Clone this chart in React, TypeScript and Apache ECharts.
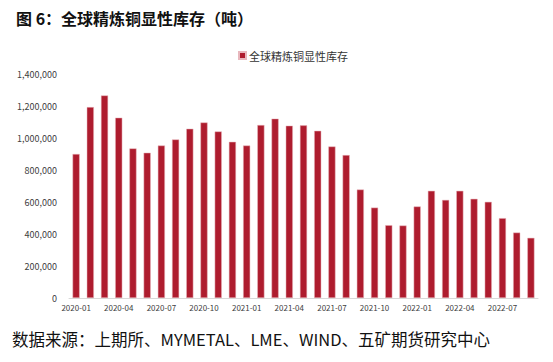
import React, { useEffect, useRef } from "react";
import * as echarts from "echarts";

const categories = [
  "2020-01", "2020-02", "2020-03", "2020-04", "2020-05", "2020-06",
  "2020-07", "2020-08", "2020-09", "2020-10", "2020-11", "2020-12",
  "2021-01", "2021-02", "2021-03", "2021-04", "2021-05", "2021-06",
  "2021-07", "2021-08", "2021-09", "2021-10", "2021-11", "2021-12",
  "2022-01", "2022-02", "2022-03", "2022-04", "2022-05", "2022-06",
  "2022-07", "2022-08", "2022-09",
];

const inventory = [
  900000, 1193000, 1266000, 1127000, 935000, 908000,
  953000, 991000, 1058000, 1097000, 1041000, 976000,
  953000, 1081000, 1121000, 1077000, 1079000, 1045000,
  947000, 893000, 678000, 565000, 455000, 453000,
  572000, 670000, 613000, 670000, 620000, 601000,
  499000, 409000, 376000,
];

const seriesName = "全球精炼铜显性库存";
const titleText = "图 6：全球精炼铜显性库存（吨）";
const sourceText = "数据来源：上期所、MYMETAL、LME、WIND、五矿期货研究中心";

export default function App() {
  const ref = useRef<HTMLDivElement>(null);
  useEffect(() => {
    document.body.style.margin = "0";
    if (!ref.current) return;
    const chart = echarts.init(ref.current, null, { renderer: "svg" });
    const font = '"Noto Sans CJK SC", "Noto Sans", sans-serif';
    chart.setOption({
      animation: false,
      backgroundColor: "#ffffff",
      textStyle: { fontFamily: font },
      title: {
        text: titleText,
        left: 11,
        top: 5,
        textStyle: { fontSize: 16, fontWeight: "bold", color: "#111111", fontFamily: font },
      },
      legend: {
        data: [seriesName],
        left: 233,
        top: 45,
        itemWidth: 7,
        itemHeight: 7,
        itemGap: 4,
        icon: "rect",
        textStyle: { fontSize: 11, color: "#333333", fontFamily: font, padding: [0, 0, 0, -2] },
      },
      grid: { left: 69, right: 15, top: 74, bottom: 64, containLabel: false },
      xAxis: {
        type: "category",
        data: categories,
        boundaryGap: true,
        axisLine: { lineStyle: { color: "#d9d9d9" } },
        axisTick: { interval: 2, length: 4, lineStyle: { color: "#d9d9d9" } },
        axisLabel: { interval: 2, fontSize: 8, color: "#404040", margin: 5, fontFamily: font },
      },
      yAxis: {
        type: "value",
        min: 0,
        max: 1400000,
        interval: 200000,
        axisLine: { show: false },
        axisTick: { show: false },
        splitLine: { show: false },
        axisLabel: {
          fontSize: 9,
          color: "#404040",
          margin: 12,
          fontFamily: font,
          formatter: (v: number) => v.toLocaleString("en-US"),
        },
      },
      series: [
        {
          name: seriesName,
          type: "bar",
          data: inventory,
          barWidth: "50%",
          itemStyle: { color: "#AE1C2E", borderColor: "#E8B7BD", borderWidth: 0.5 },
        },
      ],
      graphic: [
        {
          type: "text",
          left: 12,
          top: 331,
          style: {
            text: sourceText,
            fontSize: 16.5,
            fill: "#111111",
            fontFamily: font,
          },
        },
      ],
    });
    return () => chart.dispose();
  }, []);
  return <div ref={ref} style={{ width: 553, height: 362 }} />;
}
